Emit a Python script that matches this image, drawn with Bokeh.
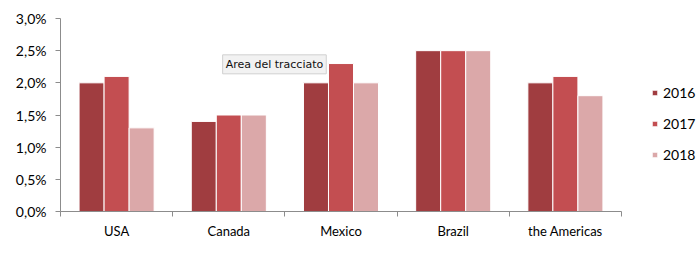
from bokeh.plotting import figure
from bokeh.models import (ColumnDataSource, Range1d, FixedTicker, CustomJSTickFormatter,
                          Legend, LegendItem, Label)
from bokeh.transform import dodge
from bokeh.embed import file_html
from bokeh.resources import INLINE

categories = ["USA", "Canada", "Mexico", "Brazil", "the Americas"]
years = ["2016", "2017", "2018"]
v2016 = [2.0, 1.4, 2.0, 2.5, 2.0]
v2017 = [2.1, 1.5, 2.3, 2.5, 2.1]
v2018 = [1.3, 1.5, 2.0, 2.5, 1.8]
y_ticks = [0.0, 0.5, 1.0, 1.5, 2.0, 2.5, 3.0]
tooltip_text = "Area del tracciato"

colors = ["#A03D40", "#C34E51", "#DBA8A9"]
FONT = "Lato"

xpos = [i + 0.5 for i in range(len(categories))]
src = ColumnDataSource(dict(x=xpos, cat=categories, v2016=v2016, v2017=v2017, v2018=v2018))

p = figure(width=700, height=253, output_backend="svg", toolbar_location=None,
           x_range=Range1d(0, len(categories)), y_range=Range1d(0, 3.0),
           min_border_left=60, min_border_right=79, min_border_top=18, min_border_bottom=42,
           frame_width=561, frame_height=193)
p.outline_line_color = None
p.xgrid.visible = False
p.ygrid.visible = False
p.background_fill_color = "white"
p.border_fill_color = "white"

bw = 0.223
offsets = [-bw, 0.0, bw]
renderers = []
for yr, col, off in zip(years, colors, offsets):
    r = p.vbar(x=dodge("x", off), top="v" + yr, width=bw, source=src,
               fill_color=col, line_color="white", line_width=1)
    renderers.append(r)

axis_col = "#8c8c8c"
# x axis
xa = p.xaxis[0]
xa.ticker = FixedTicker(ticks=xpos, minor_ticks=list(range(len(categories) + 1)))
xa.major_label_overrides = {x: c for x, c in zip(xpos, categories)}
xa.major_tick_out = 0
xa.major_tick_in = 0
xa.minor_tick_out = 5
xa.minor_tick_in = 0
xa.minor_tick_line_color = axis_col
xa.axis_line_color = axis_col
xa.major_label_text_font = FONT
xa.major_label_text_font_size = "13px"
xa.major_label_text_color = "#000000"
xa.major_label_standoff = 6

ya = p.yaxis[0]
ya.ticker = FixedTicker(ticks=y_ticks, minor_ticks=[])
ya.formatter = CustomJSTickFormatter(code="return tick.toFixed(1).replace('.', ',') + '%';")
ya.major_tick_out = 5
ya.major_tick_in = 0
ya.major_tick_line_color = axis_col
ya.axis_line_color = axis_col
ya.major_label_text_font = FONT
ya.major_label_text_font_size = "14px"
ya.major_label_text_color = "#000000"
ya.major_label_standoff = 9

legend = Legend(items=[LegendItem(label=yr, renderers=[r]) for yr, r in zip(years, renderers)],
                location=(30, 48), orientation="vertical",
                glyph_width=7, glyph_height=7, label_standoff=5,
                label_height=16, spacing=14, padding=0, margin=0,
                border_line_color=None, background_fill_alpha=0,
                label_text_font=FONT, label_text_font_size="14px", label_text_color="#000000")
p.add_layout(legend, "right")

tip = Label(x=1.445, y=2.14, text=tooltip_text, text_font="DejaVu Sans", text_font_size="11px",
            text_color="#111111", text_align="left", text_baseline="bottom",
            background_fill_color="#F2F2F2", border_line_color="#d0d0d0", padding=3)
p.add_layout(tip)

open("out.html", "w").write(file_html(p, INLINE))
